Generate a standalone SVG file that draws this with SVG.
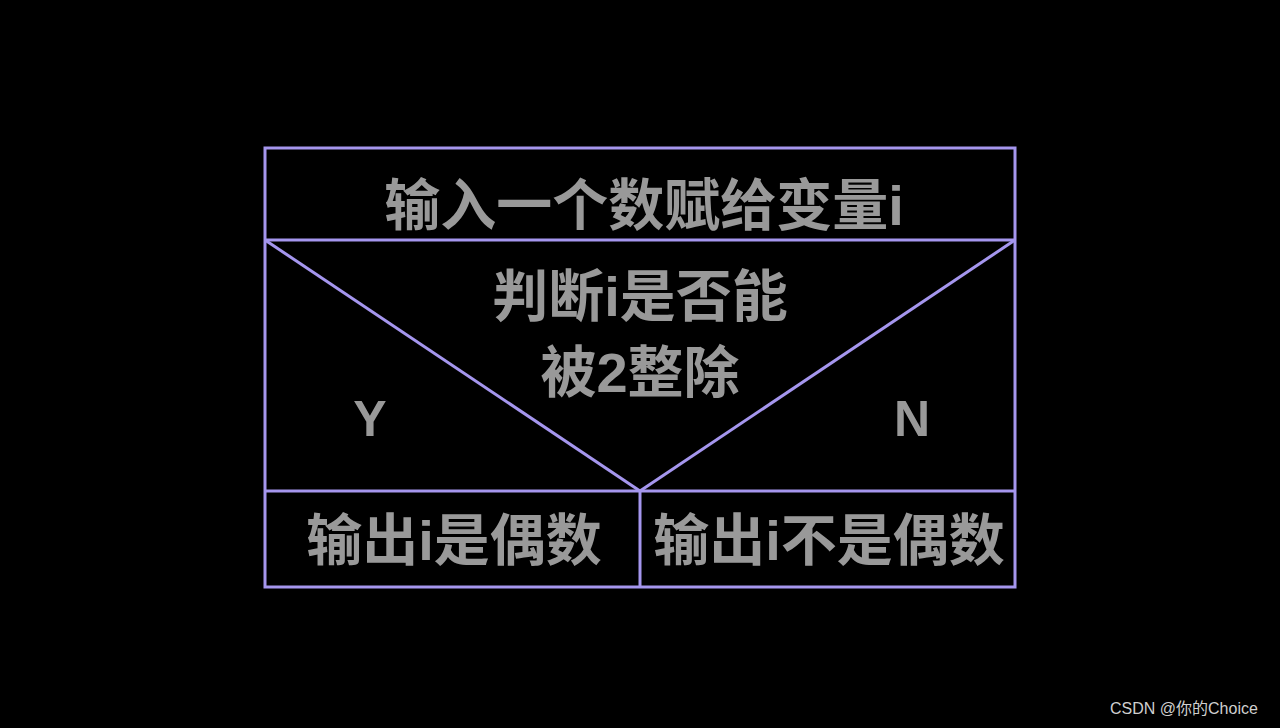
<svg xmlns="http://www.w3.org/2000/svg" width="1280" height="728" viewBox="0 0 1280 728">
<style>
.ln{stroke:#a596ee;stroke-width:3;fill:none}
.t{font-family:"Liberation Sans","Noto Sans CJK SC",sans-serif;font-weight:bold;fill:#999999;text-anchor:middle}
.big{font-size:56px}
.wm{font-family:"Liberation Sans","Noto Sans CJK SC",sans-serif;font-size:16px;fill:#cfcfcf}
</style>
<rect width="1280" height="728" fill="#000"/>
<g id="connectors">
<rect class="ln" x="265" y="148" width="750" height="439"/>
<line class="ln" x1="265" y1="240" x2="1015" y2="240"/>
<line class="ln" x1="265" y1="491" x2="1015" y2="491"/>
<line class="ln" x1="640" y1="491" x2="640" y2="587"/>
<line class="ln" x1="265" y1="240" x2="640" y2="491"/>
<line class="ln" x1="1015" y1="240" x2="640" y2="491"/>
</g>
<g id="input"><text class="t big" x="644" y="225">输入一个数赋给变量i</text></g>
<g id="decision">
<text class="t big" x="640" y="316">判断i是否能</text>
<text class="t big" x="640" y="392">被2整除</text>
</g>
<g id="labelY"><text class="t" font-size="50" x="370" y="436">Y</text></g>
<g id="labelN"><text class="t" font-size="50" x="912" y="436">N</text></g>
<g id="yes"><text class="t big" x="454" y="560">输出i是偶数</text></g>
<g id="no"><text class="t big" x="829" y="560">输出i不是偶数</text></g>
<text class="wm" x="1110" y="714">CSDN @你的Choice</text>
</svg>
